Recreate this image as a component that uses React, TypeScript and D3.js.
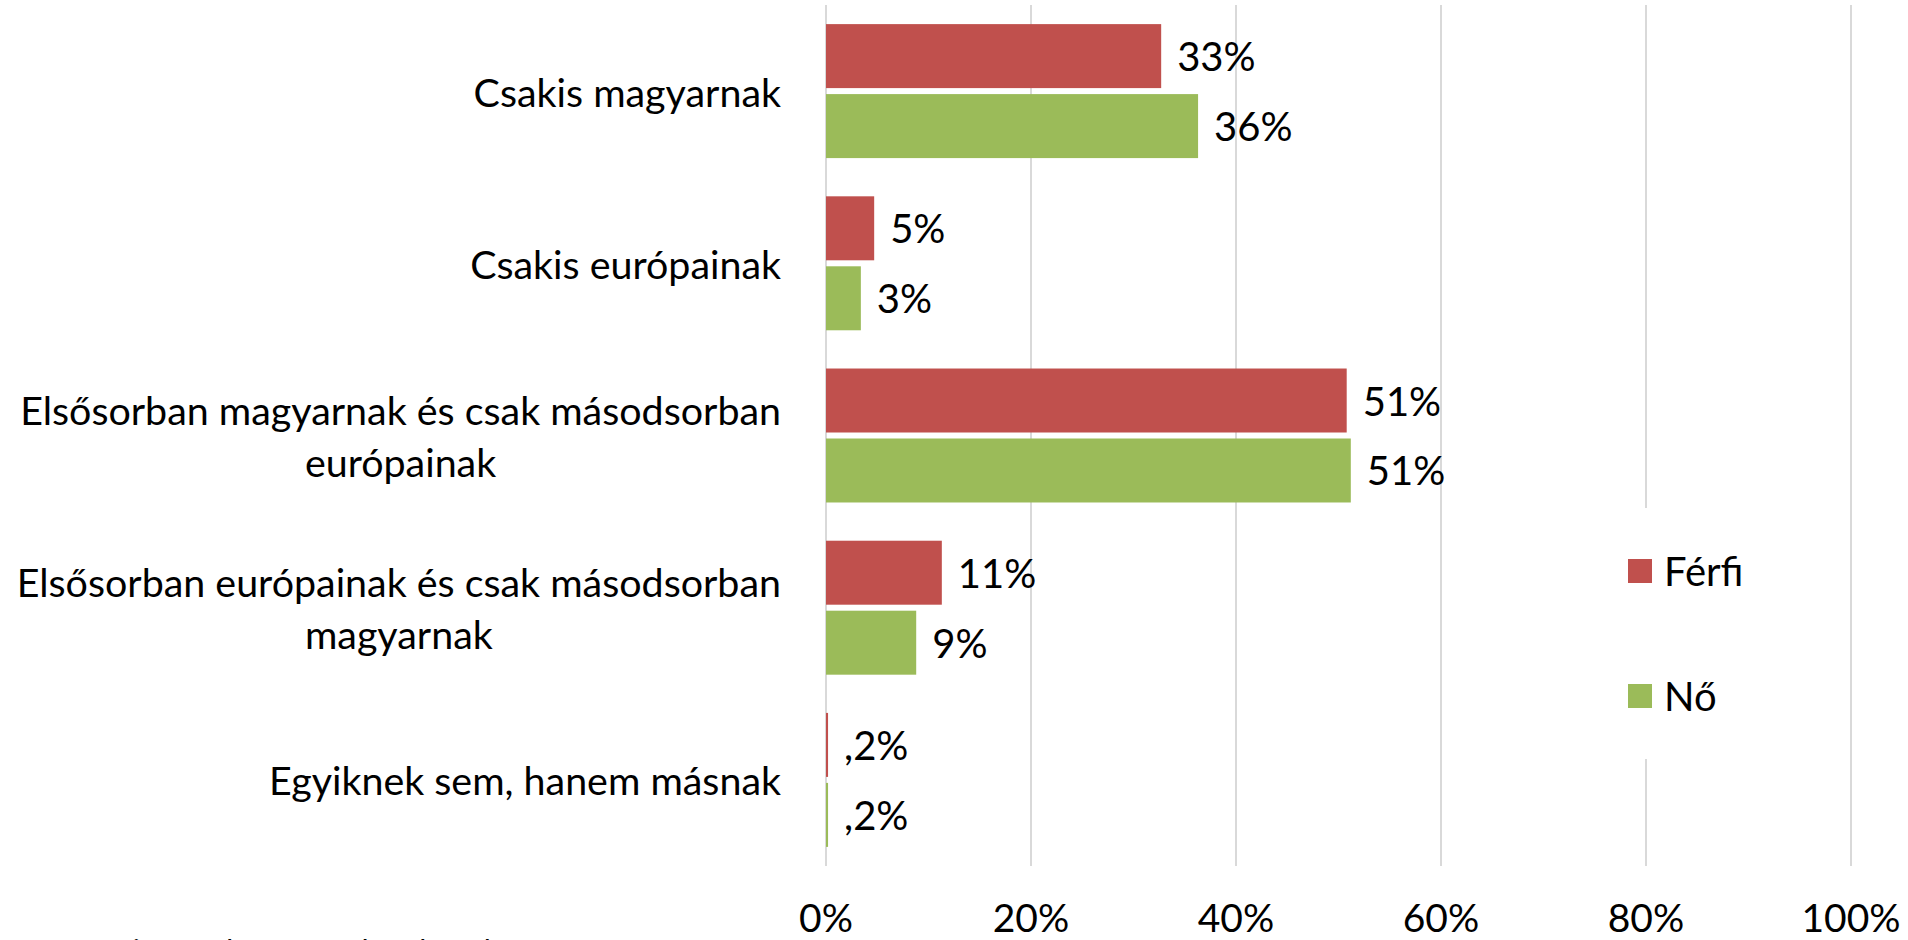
import React, { useEffect, useRef } from "react";
import * as d3 from "d3";

const categories = [
  "Csakis magyarnak",
  "Csakis európainak",
  "Elsősorban magyarnak és csak másodsorban európainak",
  "Elsősorban európainak és csak másodsorban magyarnak",
  "Egyiknek sem, hanem másnak",
];
const categoryLines = [
  ["Csakis magyarnak"],
  ["Csakis európainak"],
  ["Elsősorban magyarnak és csak másodsorban", "európainak"],
  ["Elsősorban európainak és csak másodsorban", "magyarnak"],
  ["Egyiknek sem, hanem másnak"],
];
const seriesNames = ["Férfi", "Nő"];
const ferfiValues = [0.327, 0.047, 0.508, 0.113, 0.002];
const noValues = [0.363, 0.034, 0.512, 0.088, 0.002];
const ferfiLabels = ["33%", "5%", "51%", "11%", ",2%"];
const noLabels = ["36%", "3%", "51%", "9%", ",2%"];
const seriesColors = ["#C0504D", "#9BBB59"];
const xTicks = [0, 0.2, 0.4, 0.6, 0.8, 1];
const sourceBold = "Forrás:";
const sourceText = " saját szerkesztés, adatfelvétel";

const W = 1908;
const H = 940;
const FONT = "Lato, 'Open Sans', sans-serif";

export default function App() {
  const ref = useRef<SVGSVGElement | null>(null);

  useEffect(() => {
    const svg = d3.select(ref.current);
    svg.selectAll("*").remove();

    const x = d3.scaleLinear().domain([0, 1]).range([826, 1851]);
    const y = d3.scaleBand<string>().domain(categories).range([5, 866]).paddingInner(0.222).paddingOuter(0.111);
    const y1 = d3.scaleBand<string>().domain(seriesNames).range([0, y.bandwidth()]).paddingInner(0.0857).paddingOuter(0);

    svg.append("rect").attr("width", W).attr("height", H).attr("fill", "#ffffff");

    // gridlines
    svg.append("g")
      .selectAll("line")
      .data(xTicks)
      .join("line")
      .attr("x1", (d) => x(d))
      .attr("x2", (d) => x(d))
      .attr("y1", 5)
      .attr("y2", 866)
      .attr("stroke", "#d9d9d9")
      .attr("stroke-width", 2);

    // tick labels
    svg.append("g")
      .selectAll("text")
      .data(xTicks)
      .join("text")
      .attr("x", (d) => x(d))
      .attr("y", 917)
      .attr("text-anchor", "middle")
      .attr("dominant-baseline", "central")
      .attr("font-family", FONT)
      .attr("font-size", 39)
      .attr("fill", "#000")
      .text((d) => d3.format(".0%")(d));

    const seriesData = [
      { name: seriesNames[0], values: ferfiValues, labels: ferfiLabels, color: seriesColors[0] },
      { name: seriesNames[1], values: noValues, labels: noLabels, color: seriesColors[1] },
    ];

    seriesData.forEach((s) => {
      const g = svg.append("g");
      g.selectAll("rect")
        .data(categories)
        .join("rect")
        .attr("x", x(0))
        .attr("y", (c) => (y(c) ?? 0) + (y1(s.name) ?? 0))
        .attr("width", (c, i) => x(s.values[i]) - x(0))
        .attr("height", y1.bandwidth())
        .attr("fill", s.color);
      g.selectAll("text")
        .data(categories)
        .join("text")
        .attr("x", (c, i) => x(s.values[i]) + 16)
        .attr("y", (c) => (y(c) ?? 0) + (y1(s.name) ?? 0) + y1.bandwidth() / 2)
        .attr("dominant-baseline", "central")
        .attr("font-family", FONT)
        .attr("font-size", 40)
        .attr("fill", "#000")
        .text((c, i) => s.labels[i]);
    });

    // category labels
    const right = 781;
    const lineH = 52;
    categoryLines.forEach((lines, i) => {
      const cy = (y(categories[i]) ?? 0) + y.bandwidth() / 2;
      const g = svg.append("g");
      const texts = lines.map((ln, j) =>
        g.append("text")
          .attr("y", cy + (j - (lines.length - 1) / 2) * lineH)
          .attr("dominant-baseline", "central")
          .attr("font-family", FONT)
          .attr("font-size", 39.4)
          .attr("fill", "#000")
          .text(ln)
      );
      const widths = texts.map((t) => (t.node() as SVGTextElement).getComputedTextLength());
      const maxW = Math.max(...widths);
      texts.forEach((t) => {
        t.attr("x", right - maxW / 2).attr("text-anchor", "middle");
      });
    });

    // legend
    const lg = svg.append("g");
    lg.append("rect").attr("x", 1600).attr("y", 508).attr("width", 220).attr("height", 251).attr("fill", "#fff");
    seriesData.forEach((s, i) => {
      const top = 559 + i * 125;
      lg.append("rect").attr("x", 1628).attr("y", top).attr("width", 24).attr("height", 24).attr("fill", s.color);
      lg.append("text")
        .attr("x", 1664)
        .attr("y", top + 12)
        .attr("dominant-baseline", "central")
        .attr("font-family", FONT)
        .attr("font-size", 40)
        .attr("fill", "#000")
        .text(s.name);
    });

    // source (cut off at bottom)
    const src = svg.append("text").attr("x", 6).attr("y", 962).attr("font-family", FONT).attr("font-size", 30).attr("fill", "#000");
    src.append("tspan").attr("font-weight", "bold").text(sourceBold);
    src.append("tspan").text(sourceText);
  }, []);

  return (
    <svg
      ref={ref}
      width={W}
      height={H}
      style={{ position: "absolute", left: 0, top: 0, display: "block" }}
    />
  );
}
